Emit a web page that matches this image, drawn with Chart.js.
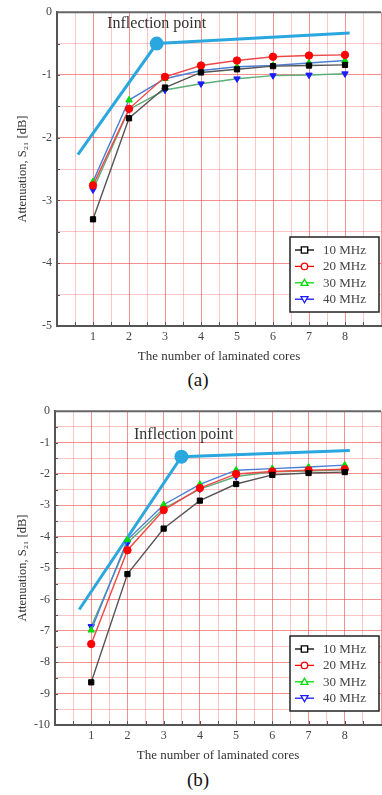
<!DOCTYPE html>
<html><head><meta charset="utf-8">
<script src="https://cdn.jsdelivr.net/npm/chart.js@4.4.0/dist/chart.umd.min.js"></script>
<style>
html,body{margin:0;padding:0;overflow:hidden;background:#fff;width:382px;height:795px;}
.wrap{position:absolute;left:0;width:386px;height:364px;}
.cap{position:absolute;left:0;width:396px;text-align:center;font-family:'Liberation Serif','Times New Roman',serif;font-size:19px;line-height:22px;color:#111;}
</style></head><body>
<div class="wrap" style="top:0px"><canvas id="ca" width="386" height="364"></canvas></div>
<div class="cap" style="top:369px">(a)</div>
<div class="wrap" style="top:399px"><canvas id="cb" width="386" height="364"></canvas></div>
<div class="cap" style="top:769px">(b)</div>
<script>
// ---------- data ----------
const cores = [1, 2, 3, 4, 5, 6, 7, 8];
const seriesNames = ['10 MHz', '20 MHz', '30 MHz', '40 MHz'];
const xTickLabels = [1, 2, 3, 4, 5, 6, 7, 8];

// (a)
const a10 = [-3.30, -1.69, -1.20, -0.96, -0.91, -0.86, -0.85, -0.84];
const a20 = [-2.76, -1.54, -1.03, -0.85, -0.77, -0.71, -0.69, -0.68];
const a30 = [-2.70, -1.40, -1.06, -0.93, -0.87, -0.85, -0.81, -0.77];
const a40 = [-2.83, -1.55, -1.24, -1.14, -1.06, -1.01, -1.00, -0.98];
const aInflX = [0.58, 2.77, 8.13];
const aInflY = [-2.27, -0.50, -0.33];
const aYTicks = [0, -1, -2, -3, -4, -5];

// (b)
const b10 = [-8.64, -5.19, -3.74, -2.85, -2.32, -2.03, -1.97, -1.94];
const b20 = [-7.42, -4.43, -3.15, -2.45, -2.00, -1.92, -1.88, -1.85];
const b30 = [-6.98, -4.10, -2.98, -2.33, -1.88, -1.83, -1.78, -1.72];
const b40 = [-6.86, -4.20, -3.10, -2.48, -2.08, -1.93, -1.91, -1.87];
const bInflX = [0.67, 3.49, 8.14];
const bInflY = [-6.32, -1.45, -1.25];
const bYTicks = [0, -1, -2, -3, -4, -5, -6, -7, -8, -9, -10];

const inflText = 'Inflection point';

// ---------- styles ----------
const SERIF = "'Liberation Serif','Times New Roman',serif";
const markerColors = ['#000000', '#ff0000', '#00dd00', '#1a1aff'];
const lineColors = ['#555555', '#f04848', '#4a7fd6', '#5aae78'];
const pointStyles = ['rect', 'circle', 'triangle', 'triangle'];
const pointRots = [0, 0, 0, 180];
const INFL = '#2aa7df';

function isInt(v) { return Math.abs(v - Math.round(v)) < 1e-6; }

function drawMarker(ctx, style, rot, x, y, r) {
  ctx.beginPath();
  if (style === 'rect') {
    ctx.rect(x - r, y - r, 2 * r, 2 * r);
  } else if (style === 'circle') {
    ctx.arc(x, y, r, 0, Math.PI * 2);
  } else {
    const s = rot === 180 ? -1 : 1;
    ctx.moveTo(x, y - s * r * 1.1);
    ctx.lineTo(x + r * 1.1, y + s * r * 0.8);
    ctx.lineTo(x - r * 1.1, y + s * r * 0.8);
    ctx.closePath();
  }
  ctx.fill();
  ctx.stroke();
}

const extras = {
  id: 'extras',
  afterDraw(chart, args, opts) {
    const ctx = chart.ctx;
    const ca = chart.chartArea;
    const xs = chart.scales.x, ys = chart.scales.y;
    ctx.save();
    // top border
    ctx.strokeStyle = '#666';
    ctx.lineWidth = 2;
    ctx.beginPath();
    ctx.moveTo(ca.left, ca.top);
    ctx.lineTo(ca.right, ca.top);
    ctx.stroke();
    // minor tick marks
    ctx.lineWidth = 1;
    ctx.strokeStyle = '#555';
    for (let v = 0.5; v < xs.max; v += 0.5) {
      const px = Math.round(xs.getPixelForValue(v)) + 0.5;
      ctx.beginPath(); ctx.moveTo(px, ca.bottom); ctx.lineTo(px, ca.bottom - 4); ctx.stroke();
    }
    for (let v = ys.min + 0.5; v < ys.max; v += 0.5) {
      const py = Math.round(ys.getPixelForValue(v)) + 0.5;
      ctx.beginPath(); ctx.moveTo(ca.left, py); ctx.lineTo(ca.left + 3, py); ctx.stroke();
    }
    // annotation text
    ctx.fillStyle = '#333';
    ctx.font = '16px ' + SERIF;
    ctx.textAlign = 'center';
    ctx.textBaseline = 'middle';
    ctx.fillText(inflText, xs.getPixelForValue(opts.textX), ys.getPixelForValue(opts.textY));
    // legend
    const L = opts.legend;
    ctx.fillStyle = '#fff';
    ctx.fillRect(L.left, L.top, L.width, L.height);
    ctx.strokeStyle = '#222';
    ctx.lineWidth = 1.5;
    ctx.strokeRect(L.left, L.top, L.width, L.height);
    ctx.font = '13px ' + SERIF;
    ctx.textAlign = 'left';
    chart.data.datasets.forEach((ds, i) => {
      if (!ds.inLegend) return;
      const y = L.top + 13 + i * 16.4;
      ctx.strokeStyle = markerColors[i];
      ctx.lineWidth = 1.3;
      ctx.beginPath(); ctx.moveTo(L.left + 5, y); ctx.lineTo(L.left + 24, y); ctx.stroke();
      ctx.fillStyle = '#fff';
      drawMarker(ctx, pointStyles[i], pointRots[i], L.left + 14.5, y, 3.2);
      ctx.fillStyle = '#444';
      ctx.fillText(ds.label, L.left + 33, y + 0.5);
    });
    ctx.restore();
  }
};

function makeChart(id, series, inflX, inflY, yMin, yTicks, yWidth, padRight, textPos) {
  const datasets = series.map((arr, i) => ({
    label: seriesNames[i],
    inLegend: true,
    data: cores.map((c, k) => ({ x: c, y: arr[k] })),
    borderColor: lineColors[i],
    borderWidth: 1.4,
    pointStyle: pointStyles[i],
    pointRotation: pointRots[i],
    pointRadius: 3.7,
    pointBackgroundColor: markerColors[i],
    pointBorderColor: markerColors[i],
    pointBorderWidth: 1,
    tension: 0,
    order: 1
  }));
  datasets.push({
    label: 'inflection',
    inLegend: false,
    data: inflX.map((x, k) => ({ x: x, y: inflY[k] })),
    borderColor: INFL,
    borderWidth: 3,
    pointRadius: [0, 5.5, 0],
    pointBackgroundColor: INFL,
    pointBorderColor: INFL,
    tension: 0,
    order: 2
  });
  const gridColor = ctx => isInt(ctx.tick.value) ? 'rgba(238,70,70,0.6)' : 'rgba(238,70,70,0.3)';
  return new Chart(document.getElementById(id), {
    type: 'line',
    data: { datasets },
    plugins: [extras],
    options: {
      responsive: false,
      animation: false,
      devicePixelRatio: 1,
      layout: { padding: { top: 10, left: 0, right: padRight, bottom: 0 } },
      plugins: {
        legend: { display: false },
        tooltip: { enabled: false },
        extras: { textX: textPos[0], textY: textPos[1], legend: { left: 290, top: 237, width: 89, height: 75 } }
      },
      scales: {
        x: {
          type: 'linear', min: 0, max: 9,
          afterFit: s => { s.height = 38; },
          grid: { drawTicks: false, color: gridColor, lineWidth: 1 },
          border: { display: true, color: '#555', width: 2 },
          ticks: {
            stepSize: 0.5, autoSkip: false, maxTicksLimit: 100, maxRotation: 0, padding: 4,
            color: '#444', font: { family: SERIF, size: 12 },
            callback: v => xTickLabels.some(t => isInt(v) && t === Math.round(v)) ? String(Math.round(v)) : ''
          },
          title: { display: true, text: 'The number of laminated cores', color: '#333',
                   font: { family: SERIF, size: 13 }, padding: { top: 0, bottom: 0 } }
        },
        y: {
          type: 'linear', min: yMin, max: 0,
          afterFit: s => { s.width = yWidth; },
          grid: { drawTicks: false, color: gridColor, lineWidth: 1 },
          border: { display: true, color: '#555', width: 2 },
          ticks: {
            stepSize: 0.5, autoSkip: false, maxTicksLimit: 100, padding: 5,
            color: '#444', font: { family: SERIF, size: 12 },
            callback: v => (isInt(v) && yTicks.includes(Math.round(v))) ? String(Math.round(v)) : ''
          },
          title: { display: true, text: 'Attenuation, S\u2082\u2081 [dB]', color: '#333',
                   font: { family: SERIF, size: 12.5 }, padding: { top: 15, bottom: 0 } }
        }
      }
    }
  });
}

makeChart('ca', [a10, a20, a30, a40], aInflX, aInflY, -5, aYTicks, 57, 0, [2.77, -0.19]);
makeChart('cb', [b10, b20, b30, b40], bInflX, bInflY, -10, bYTicks, 55, 1, [3.55, -0.76]);
</script>
</body></html>
